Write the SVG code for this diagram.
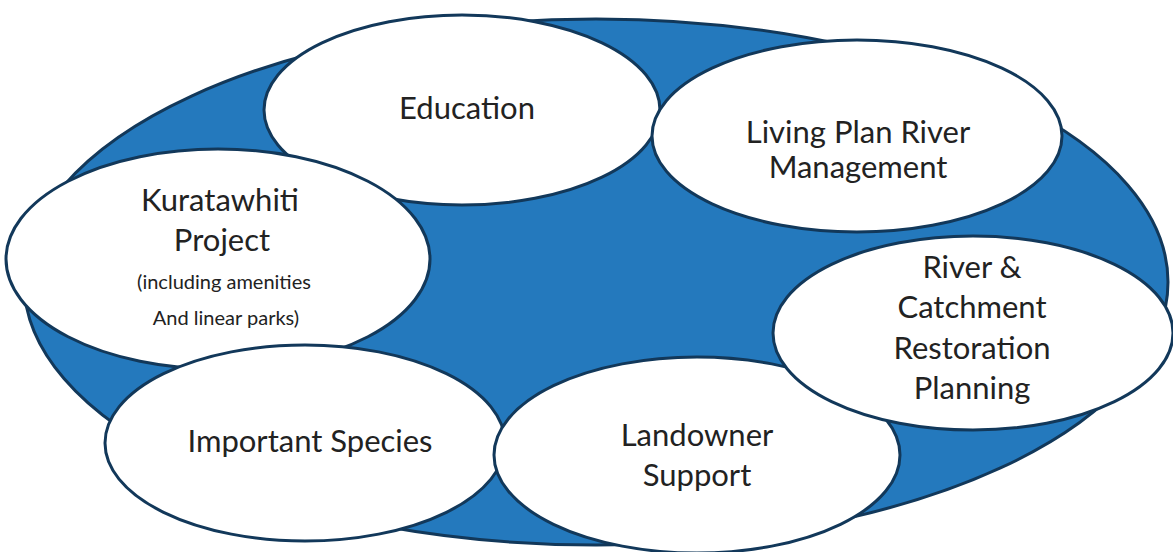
<svg xmlns="http://www.w3.org/2000/svg" width="1173" height="552" viewBox="0 0 1173 552">
<style>
.bg{fill:#ffffff}
.outer{fill:#2479bd;stroke:#12385a;stroke-width:3}
.node{fill:#ffffff;stroke:#12385a;stroke-width:3}
.t{font-family:Lato,"Open Sans","Liberation Sans",sans-serif;font-size:31px;fill:#222;text-anchor:middle}
.s{font-size:20px}
</style>
<rect class="bg" x="0" y="0" width="1173" height="552"/>
<ellipse id="outer" class="outer" cx="596" cy="282" rx="572" ry="263"/>
<g id="education">
<ellipse class="node" cx="462" cy="110" rx="198" ry="95"/>
<text class="t" x="467" y="119">Education</text>
</g>
<g id="kuratawhiti">
<ellipse class="node" cx="218" cy="259" rx="212" ry="110"/>
<text class="t" x="220" y="211">Kuratawhiti</text>
<text class="t" x="222" y="251">Project</text>
<text class="t s" x="224" y="289">(including amenities</text>
<text class="t s" x="226" y="325">And linear parks)</text>
</g>
<g id="species">
<ellipse class="node" cx="305" cy="443" rx="200" ry="98"/>
<text class="t" x="310" y="452">Important Species</text>
</g>
<g id="landowner">
<ellipse class="node" cx="697" cy="455" rx="203" ry="98"/>
<text class="t" x="697" y="446">Landowner</text>
<text class="t" x="697" y="486">Support</text>
</g>
<g id="river">
<ellipse class="node" cx="973" cy="333" rx="200" ry="97"/>
<text class="t" x="972" y="278">River &amp;</text>
<text class="t" x="972" y="318">Catchment</text>
<text class="t" x="972" y="359">Restoration</text>
<text class="t" x="972" y="399">Planning</text>
</g>
<g id="living">
<ellipse class="node" cx="857" cy="136" rx="205" ry="96"/>
<text class="t" x="858" y="143">Living Plan River</text>
<text class="t" x="858" y="178">Management</text>
</g>
<g id="connectors"></g>
</svg>
